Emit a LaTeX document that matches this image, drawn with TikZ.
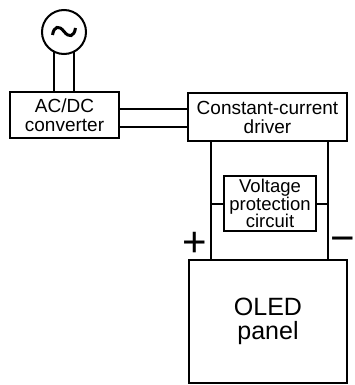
\documentclass[tikz,border=0pt]{standalone}
\usepackage{fontspec}
\setmainfont{Liberation Sans}
\begin{document}
\begin{tikzpicture}[x=1pt,y=-1pt,line width=2pt,
  box/.style={draw, rectangle, inner sep=0pt, outer sep=0pt, align=center, font=\fontsize{19}{19}\selectfont},
  src/.style={draw, circle, minimum size=44pt, inner sep=0pt, outer sep=0pt},
  sign/.style={font=\fontsize{42}{42}\selectfont, inner sep=0pt}]
\useasboundingbox (0,0) rectangle (354,385);
\node[src] (src) at (64,32) {};
\draw[line width=3pt] (52.5,35) .. controls (54,26) and (59,25) .. (64,31.5) .. controls (69,38) and (74,37) .. (75.5,28);
\node[box, minimum width=109pt, minimum height=46pt] (conv) at (64.5,115) {AC/DC\\converter};
\node[box, minimum width=159pt, minimum height=48pt] (drv) at (267.5,117) {Constant-current\\driver};
\node[box, minimum width=92pt, minimum height=55pt, font=\fontsize{18.5}{17.5}\selectfont] (vp) at (270,203.5) {Voltage\\protection\\circuit};
\node[box, minimum width=158pt, minimum height=123pt, font=\fontsize{25}{24}\selectfont] (oled) at (268,321.5) {OLED\\panel};
\node[sign] (plus) at (195,244) {+};
\node[sign] (minus) at (343,245) {−};
\draw (src.-117) -- (src.-117 |- conv.north);
\draw (src.-63) -- (src.-63 |- conv.north);
\draw (conv.east |- 0,109) -- (drv.west |- 0,109);
\draw (conv.east |- 0,127) -- (drv.west |- 0,127);
\draw (drv.south -| 211,0) -- (oled.north -| 211,0);
\draw (drv.south -| 328,0) -- (oled.north -| 328,0);
\draw (vp.west) -- (vp.west -| 211,0);
\draw (vp.east) -- (vp.east -| 328,0);
\end{tikzpicture}
\end{document}
